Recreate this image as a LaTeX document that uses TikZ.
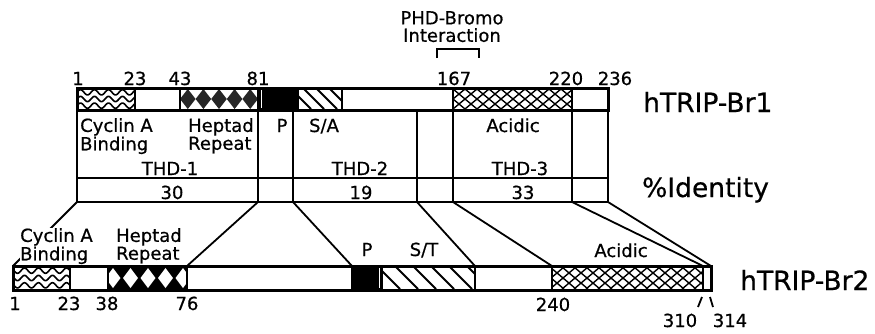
\documentclass[tikz,border=0pt]{standalone}
\usepackage{fontspec}
\setmainfont[FakeBold=0.6]{DejaVu Sans}
\newcommand\wavepat[4]{%
  \begin{scope}
    \clip (#1,#3) rectangle (#2,#4);
    \foreach \k in {1,3,5}{%
      \pgfmathsetmacro\yc{#3+(#4-#3)*\k/6}
      \draw[waveline,domain=#1:#2,samples=90] plot (\x,{\yc+2.6*sin(25.714*\x)});
    }
  \end{scope}}
\newcommand\hatchpat[6]{%
  \begin{scope}
    \clip (#1,#3) rectangle (#2,#4);
    \foreach \k in {0,...,#6}{%
      \pgfmathsetmacro\xa{#1-(#4-#3)+\k*#5}
      \pgfmathsetmacro\xb{\xa+(#4-#3)}
      \draw[hatchline] (\xa,#3) -- (\xb,#4);
    }
  \end{scope}}
\newcommand\crosspat[7]{%
  \begin{scope}
    \clip (#1,#3) rectangle (#2,#4);
    \foreach \k in {0,...,#6}{%
      \pgfmathsetmacro\xa{#1-#7+\k*#5}
      \pgfmathsetmacro\xb{\xa+#7}
      \draw[patline] (\xa,#3) -- (\xb,#4);
      \draw[patline] (\xb,#3) -- (\xa,#4);
    }
  \end{scope}}
\begin{document}
\begin{tikzpicture}[x=1pt,y=-1pt,
  lbl/.style={font=\fontsize{18}{15.5}\selectfont, inner sep=0pt, anchor=base},
  lbll/.style={font=\fontsize{18}{15.5}\selectfont, inner sep=0pt, anchor=north west, align=left},
  big/.style={font=\fontsize{26.5}{30}\selectfont, inner sep=0pt, anchor=base west},
  seg/.style={draw, line width=1.3pt},
  barframe/.style={draw, line width=3pt},
  tbl/.style={line width=1.8pt},
  conn/.style={line width=1.8pt},
  patline/.style={line width=1.4pt},
  waveline/.style={line width=1.6pt},
  hatchline/.style={line width=2pt}]
\useasboundingbox (0,0) rectangle (875,333);

% ---------- top bar hTRIP-Br1 ----------
\fill[white] (77,88) rectangle (608,110);
\wavepat{77}{135}{89}{109}
\begin{scope}
  \clip (180,89) rectangle (258,109);
  \foreach \k in {0,...,4}{%
    \pgfmathsetmacro\cx{180+7.8+\k*15.6}
    \fill[black!85] (\cx-7.8,99) -- (\cx,89) -- (\cx+7.8,99) -- (\cx,109) -- cycle;
  }
\end{scope}
\fill[black] (258,88) rectangle (298,110);
\draw[white,line width=0.8pt] (261,90) -- (261,108);
\hatchpat{298}{342}{89}{109}{13}{6}
\crosspat{453}{572}{89}{109}{12}{13}{24}
\foreach \a/\b in {77/135,135/180,180/258,258/298,298/342,342/453,453/572,572/608}
  \draw[seg] (\a,88) rectangle (\b,110);
\draw[barframe] (77,88) rectangle (608,110);

% ---------- table ----------
\coordinate (ta) at (77,202);
\coordinate (tb) at (258,202);
\coordinate (tc) at (293,202);
\coordinate (td) at (417,202);
\coordinate (te) at (453,202);
\coordinate (tf) at (572,202);
\coordinate (tg) at (608,202);
\foreach \xx in {77,258,293,417,453,572,608}
  \draw[tbl] (\xx,110) -- (\xx,202);
\draw[tbl] (77,178) -- (608,178);
\draw[tbl] (ta) -- (tg);

% ---------- bottom bar hTRIP-Br2 ----------
\coordinate (ba) at (13,266);
\coordinate (bb) at (187,266);
\coordinate (bc) at (352,266);
\coordinate (bd) at (475,266);
\coordinate (be) at (552,266);
\coordinate (bf) at (703,266);
\coordinate (bg) at (711,266);
\draw[conn] (ta) -- (ba);
\draw[conn] (tb) -- (bb);
\draw[conn] (tc) -- (bc);
\draw[conn] (td) -- (bd);
\draw[conn] (te) -- (be);
\draw[conn] (tf) -- (bf);
\draw[conn] (tg) -- (bg);

\fill[white] (13,266) rectangle (711,290);
\wavepat{13}{70}{267}{289}
\fill[black] (108,266) rectangle (187,290);
\begin{scope}
  \clip (108,267) rectangle (187,289);
  \foreach \k in {0,...,4}{%
    \pgfmathsetmacro\cx{113+\k*17.5}
    \fill[white] (\cx-7.5,278) -- (\cx,268) -- (\cx+7.5,278) -- (\cx,288) -- cycle;
  }
\end{scope}
\fill[black] (352,266) rectangle (382,290);
\draw[white,line width=0.8pt] (379,268) -- (379,288);
\hatchpat{382}{475}{267}{289}{18}{7}
\crosspat{552}{703}{267}{289}{12}{16}{26}
\foreach \a/\b in {13/70,70/108,108/187,187/352,352/382,382/475,475/552,552/703,703/711}
  \draw[seg] (\a,266) rectangle (\b,290);
\draw[barframe] (13,266) rectangle (711,290);

% ---------- top labels ----------
\node[lbl] (p1) at (78,85) {1};
\node[lbl] (p23) at (135,85) {23};
\node[lbl] (p43) at (180,85) {43};
\node[lbl] (p81) at (258,85) {81};
\node[lbl] (p167) at (454,85) {167};
\node[lbl] (p220) at (566,85) {220};
\node[lbl] (p236) at (615,85) {236};
\node[lbl, anchor=north, align=center, font=\fontsize{18}{17.5}\selectfont] (phd) at (452,11) {PHD-Bromo\\Interaction};
\coordinate (brl) at (437,58);
\coordinate (brr) at (479,58);
\draw[tbl] (brl) -- ++(0,-9) -- ++(42,0) -- (brr);
\node[big] (br1) at (643,112) {hTRIP-Br1};
\node[big] (ident) at (642,197) {\%Identity};
\node[big] (br2) at (740,290) {hTRIP-Br2};

\node[lbll] (cy1) at (80,118) {Cyclin A\\Binding};
\node[lbll] (hp1) at (188,118) {Heptad\\Repeat};
\node[lbl] (pp1) at (282,132) {P};
\node[lbl] (sa) at (324,132) {S/A};
\node[lbl] (ac1) at (513,132) {Acidic};
\node[lbl] (thd1) at (170,175) {THD-1};
\node[lbl] (thd2) at (360,175) {THD-2};
\node[lbl] (thd3) at (520,175) {THD-3};
\node[lbl] (i30) at (172,199) {30};
\node[lbl] (i19) at (361,199) {19};
\node[lbl] (i33) at (523,199) {33};

% ---------- bottom labels ----------
\node[lbll,fill=white] (cy2) at (20,228) {Cyclin A\\Binding};
\node[lbll] (hp2) at (116,228) {Heptad\\Repeat};
\node[lbl] (pp2) at (367,256) {P};
\node[lbl] (st) at (424,256) {S/T};
\node[lbl] (ac2) at (621,257) {Acidic};
\node[lbl] (q1) at (15,310) {1};
\node[lbl] (q23) at (69,310) {23};
\node[lbl] (q38) at (107,310) {38};
\node[lbl] (q76) at (187,310) {76};
\node[lbl] (q240) at (553,311) {240};
\node[lbl] (q310) at (680,327) {310};
\node[lbl] (q314) at (730,327) {314};
\coordinate (t310a) at (698,307);
\coordinate (t310b) at (702,297);
\coordinate (t314a) at (710,297);
\coordinate (t314b) at (713,307);
\draw[tbl] (t310a) -- (t310b);
\draw[tbl] (t314a) -- (t314b);
\end{tikzpicture}
\end{document}
